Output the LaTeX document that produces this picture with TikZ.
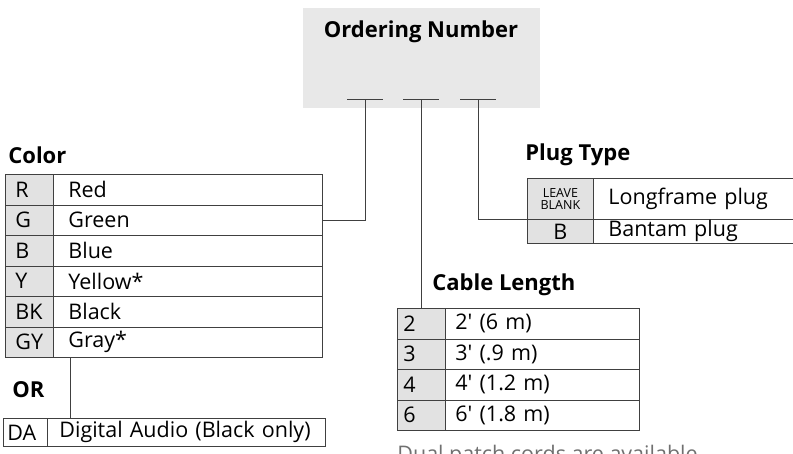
\documentclass[tikz,border=0pt]{standalone}
\usepackage{fontspec}
\setmainfont{Open Sans}
\usetikzlibrary{positioning}

\definecolor{boxfill}{HTML}{E8E8E8}
\definecolor{keyfill}{HTML}{E2E2E2}
\definecolor{linec}{HTML}{404040}
\definecolor{notec}{HTML}{707070}

\newcommand{\bodyfont}{\fontsize{21.5}{23}\selectfont}
\newcommand{\headfont}{\fontsize{22}{24}\selectfont\bfseries}
\newcommand{\tinyfont}{\fontsize{12.5}{12}\selectfont}
\newcommand{\ft}{\textquotesingle}

\begin{document}
\begin{tikzpicture}[x=1pt,y=-1pt,line width=0.8pt,
    cell/.style={draw=linec, rectangle, anchor=north west, inner ysep=0pt, minimum height=30.5pt, align=left, font=\bodyfont},
    keycell/.style={cell, fill=keyfill},
    title/.style={anchor=west, inner sep=0pt, font=\headfont}]
\useasboundingbox (0,0) rectangle (793,453);
\clip (0,0) rectangle (793,453);
            % ordering number box
            \node (hdr) at (303,8) [fill=boxfill, anchor=north west, minimum width=237pt, minimum height=100pt, inner sep=0pt]{};
            \node (hdrtxt) at (421,32) [inner sep=0pt, font=\headfont]{Ordering Number};
            \coordinate (t1) at (365,99);
            \coordinate (t2) at (421,99);
            \coordinate (t3) at (478,99);
            \draw[linec] ([xshift=-18pt]t1) -- ([xshift=18pt]t1);
            \draw[linec] ([xshift=-18pt]t2) -- ([xshift=18pt]t2);
            \draw[linec] ([xshift=-18pt]t3) -- ([xshift=18pt]t3);
            %%% color
            \node (color) at (8,155) [title]{Color};
            \begin{scope}[keycell/.append style={inner xsep=10pt, text width=28pt},
                          cell/.append style={inner xsep=15pt}]
                \node (kR) at (5,174) [keycell]{R};
                \node (vR) at (53,174) [cell, text width=239pt]{Red};
                \node (kG) at (5,204.5) [keycell]{G};
                \node (vG) at (53,204.5) [cell, text width=239pt]{Green};
                \node (kB) at (5,235) [keycell]{B};
                \node (vB) at (53,235) [cell, text width=239pt]{Blue};
                \node (kY) at (5,265.5) [keycell]{Y};
                \node (vY) at (53,265.5) [cell, text width=239pt]{Yellow*};
                \node (kBK) at (5,296) [keycell]{BK};
                \node (vBK) at (53,296) [cell, text width=239pt]{Black};
                \node (kGY) at (5,326.5) [keycell]{GY};
                \node (vGY) at (53,326.5) [cell, text width=239pt]{Gray*};
            \end{scope}
            \node (or) at (12,390) [title]{OR};
            \node (kDA) at (3,418) [cell, inner xsep=4pt, text width=36pt, minimum height=28pt]{DA};
            \node (vDA) at (47,418) [cell, inner xsep=12pt, text width=254pt, minimum height=28pt]{Digital Audio (Black only)};
            \coordinate (orj) at (70,357);
            %%% plug type
            \node (plug) at (525,155) [title]{Plug Type};
            \node (kLB) at (527,178) [keycell, align=center, inner xsep=0pt, text width=66pt, minimum height=41pt, font=\tinyfont]{LEAVE\\BLANK};
            \node (vLB) at (593,178) [cell, inner xsep=15pt, text width=200pt, minimum height=41pt]{Longframe plug};
            \node (kBT) at (527,219) [keycell, align=center, inner xsep=0pt, text width=50pt, minimum width=66pt, minimum height=24pt]{B};
            \node (vBT) at (593,219) [cell, inner xsep=15pt, text width=200pt, minimum height=24pt]{Bantam plug};
            %%% cable length
            \node (cable) at (432,285) [title]{Cable Length};
            \begin{scope}[keycell/.append style={inner xsep=6pt, text width=36pt},
                          cell/.append style={inner xsep=10pt}]
                \node (k2) at (397,308) [keycell]{2};
                \node (v2) at (445,308) [cell, text width=174pt]{2\ft{} (6 m)};
                \node (k3) at (397,338.5) [keycell]{3};
                \node (v3) at (445,338.5) [cell, text width=174pt]{3\ft{} (.9 m)};
                \node (k4) at (397,369) [keycell]{4};
                \node (v4) at (445,369) [cell, text width=174pt]{4\ft{} (1.2 m)};
                \node (k6) at (397,399.5) [keycell]{6};
                \node (v6) at (445,399.5) [cell, text width=174pt]{6\ft{} (1.8 m)};
            \end{scope}
            \node (note) at (397,445) [anchor=north west, inner sep=0pt, text=notec, font=\bodyfont]{Dual patch cords are available};
            %
            \draw[linec] (t1) |- (vG.east);
            \draw[linec] (t2) -- (t2 |- k2.north);
            \draw[linec] (t3) |- (kLB.south west);
            \draw[linec] (orj) -- (orj |- vDA.north);
\end{tikzpicture}
\end{document}
